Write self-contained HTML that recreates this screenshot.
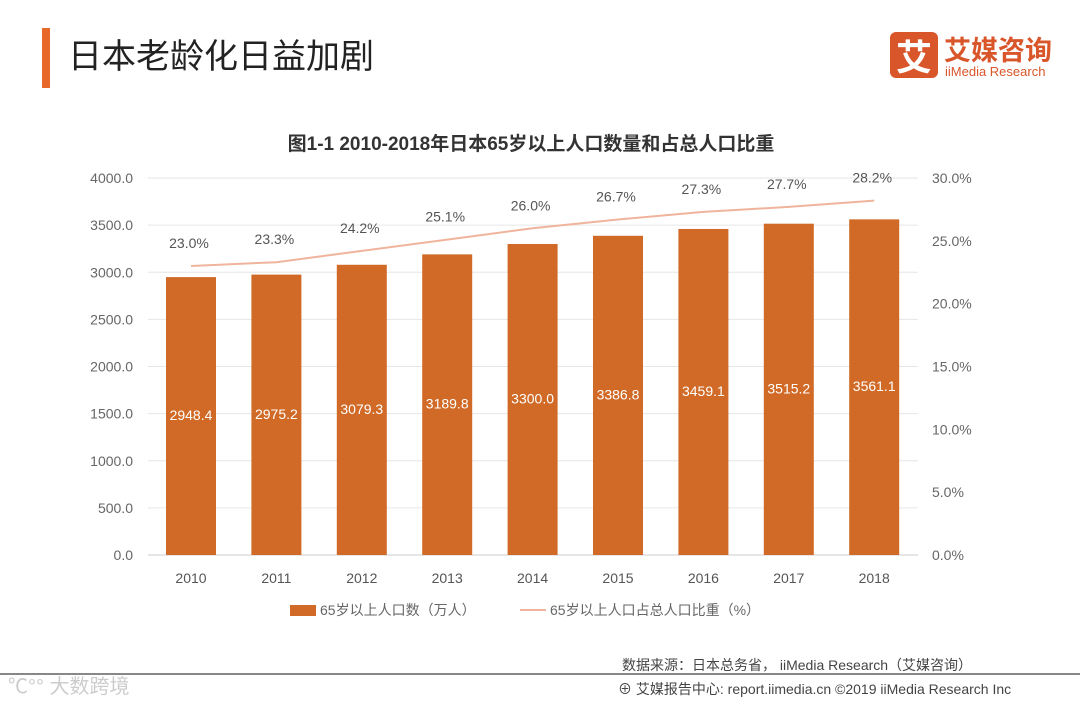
<!DOCTYPE html>
<html><head><meta charset="utf-8"><style>
body{margin:0;width:1080px;height:703px;background:#fff;overflow:hidden;font-family:"Liberation Sans","Noto Sans CJK SC",sans-serif}
svg text{font-family:"Liberation Sans","Noto Sans CJK SC",sans-serif}
</style></head><body>
<svg id="c" width="1080" height="703">
<rect x="42" y="28" width="8" height="60" fill="#e8682a"/>
<text x="68" y="68" font-size="34" fill="#222">日本老龄化日益加剧</text>
<g>
<rect x="890" y="32" width="48" height="46" rx="6" fill="#d9562b"/>
<text x="914" y="70" font-size="36" fill="#fff" text-anchor="middle" font-weight="bold">艾</text>
<text x="944" y="60" font-size="27" fill="#d9562b" font-weight="bold">艾媒咨询</text>
<text x="945" y="76" font-size="13" fill="#d9562b">iiMedia Research</text>
</g>
<text x="531" y="150" font-size="19" fill="#333" font-weight="bold" text-anchor="middle">图1-1 2010-2018年日本65岁以上人口数量和占总人口比重</text>
<g id="grid"></g><g id="bars"></g><g id="line"></g><g id="labels"></g>
<g>
<rect x="290" y="605" width="26" height="11" fill="#d06a26"/>
<text x="320" y="615" font-size="14" fill="#666">65岁以上人口数（万人）</text>
<line x1="520" y1="610" x2="546" y2="610" stroke="#f0b49c" stroke-width="2"/>
<text x="550" y="615" font-size="14" fill="#666">65岁以上人口占总人口比重（%）</text>
</g>
<text x="622" y="670" font-size="14" fill="#444">数据来源：日本总务省， iiMedia Research（艾媒咨询）</text>
<line x1="0" y1="674" x2="1080" y2="674" stroke="#888" stroke-width="2"/>
<text x="618" y="694" font-size="14" fill="#444">⊕ 艾媒报告中心: report.iimedia.cn  ©2019  iiMedia Research Inc</text>
<text x="8" y="693" font-size="20" fill="#ccc">℃°° 大数跨境</text>
</svg>
<script>
const years=["2010","2011","2012","2013","2014","2015","2016","2017","2018"];
const population=[2948.4,2975.2,3079.3,3189.8,3300.0,3386.8,3459.1,3515.2,3561.1];
const ratio=[23.0,23.3,24.2,25.1,26.0,26.7,27.3,27.7,28.2];
const leftTicks=[0,500,1000,1500,2000,2500,3000,3500,4000];
const rightTicks=[0,5,10,15,20,25,30];
const NS="http://www.w3.org/2000/svg";
const y0=555,y1=178,x0=148,xs=85.4;
const yL=v=>y0-(v/4000)*(y0-y1);
const yR=v=>y0-(v/30)*(y0-y1);
const xC=i=>191+i*xs;
function mk(t,a,p){const e=document.createElementNS(NS,t);for(const k in a)e.setAttribute(k,a[k]);p.appendChild(e);return e;}
const g=document.getElementById('grid');
leftTicks.forEach(v=>{
 const l=mk('line',{x1:x0,x2:918,y1:yL(v),y2:yL(v),stroke:v?'#e6e6e6':'#ccc'},g);
 
 
 const t=mk('text',{x:133,y:yL(v)+5,'font-size':14,fill:'#666','text-anchor':'end'},g);t.textContent=v.toFixed(1);
 
 
});
rightTicks.forEach(v=>{
 const t=mk('text',{x:932,y:yR(v)+5,'font-size':14,fill:'#666'},g);t.textContent=v.toFixed(1)+'%';
 
 
});
const b=document.getElementById('bars'),lb=document.getElementById('labels');
population.forEach((v,i)=>{
 const r=mk('rect',{x:xC(i)-25,y:yL(v),width:50,height:y0-yL(v),fill:'#d06a26'},b);
 
 
 const t=mk('text',{x:xC(i),y:yL(v/2)+4,'font-size':14,fill:'#fff','text-anchor':'middle'},lb);t.textContent=v.toFixed(1);
 
 
 const xt=mk('text',{x:xC(i),y:583,'font-size':14,fill:'#555','text-anchor':'middle'},lb);xt.textContent=years[i];
 
 
});
const ln=document.getElementById('line');
const p=mk('polyline',{points:ratio.map((v,i)=>xC(i)+','+yR(v)).join(' '),fill:'none',stroke:'#f0b49c','stroke-width':2},ln);


ratio.forEach((v,i)=>{
 const t=mk('text',{x:xC(i)-2,y:yR(v)-18,'font-size':14,fill:'#555','text-anchor':'middle'},lb);t.textContent=v.toFixed(1)+'%';
 
 
});
</script>
</body></html>
